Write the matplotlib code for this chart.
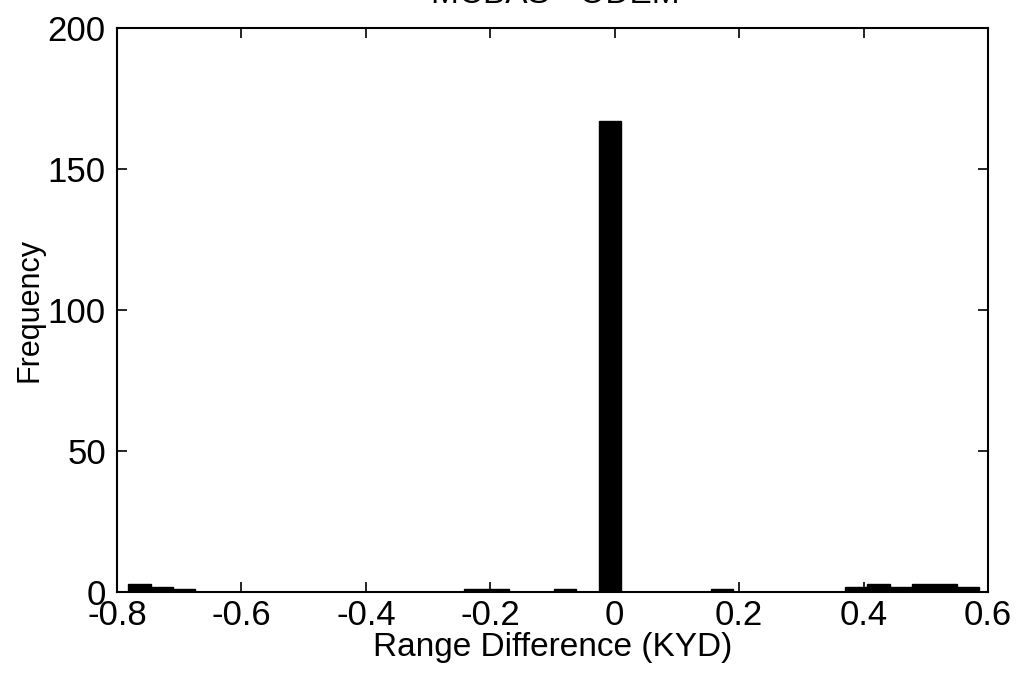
import numpy as np
import matplotlib.pyplot as plt

plt.rcParams['font.family'] = ['Liberation Sans', 'DejaVu Sans']

# histogram bins (centers in KYD) and counts
bin_centers = [-0.764, -0.728, -0.692, -0.224, -0.188, -0.080, -0.008,
               0.172, 0.388, 0.424, 0.460, 0.496, 0.532, 0.568]
counts = [3, 2, 1, 1, 1, 1, 167, 1, 2, 3, 2, 3, 3, 2]
bin_width = 0.036

xticks = [-0.8, -0.6, -0.4, -0.2, 0, 0.2, 0.4, 0.6]
xticklabels = ['-0.8', '-0.6', '-0.4', '-0.2', '0', '0.2', '0.4', '0.6']
yticks = [0, 50, 100, 150, 200]

fig = plt.figure(figsize=(10.26, 6.8), dpi=100)
ax = fig.add_axes([0.114, 0.129, 0.849, 0.830])

ax.bar(bin_centers, counts, width=bin_width, color='black',
       edgecolor='black', linewidth=1)

ax.set_xlim(-0.8, 0.6)
ax.set_ylim(0, 200)
ax.set_xticks(xticks)
ax.set_xticklabels(xticklabels)
ax.set_yticks(yticks)
ax.tick_params(direction='in', top=True, right=True, length=7, width=1.2,
               labelsize=25)
ax.tick_params(axis='x', pad=5)
ax.tick_params(axis='y', pad=8)
for s in ax.spines.values():
    s.set_linewidth(1.5)

ax.set_xlabel('Range Difference (KYD)', fontsize=24, labelpad=0)
ax.set_ylabel('Frequency', fontsize=22, labelpad=2)
fig.text(0.541, 1.008, 'MCBAS - ODEM', ha='center', va='center', fontsize=24)

fig.savefig('out.png', dpi=100)
